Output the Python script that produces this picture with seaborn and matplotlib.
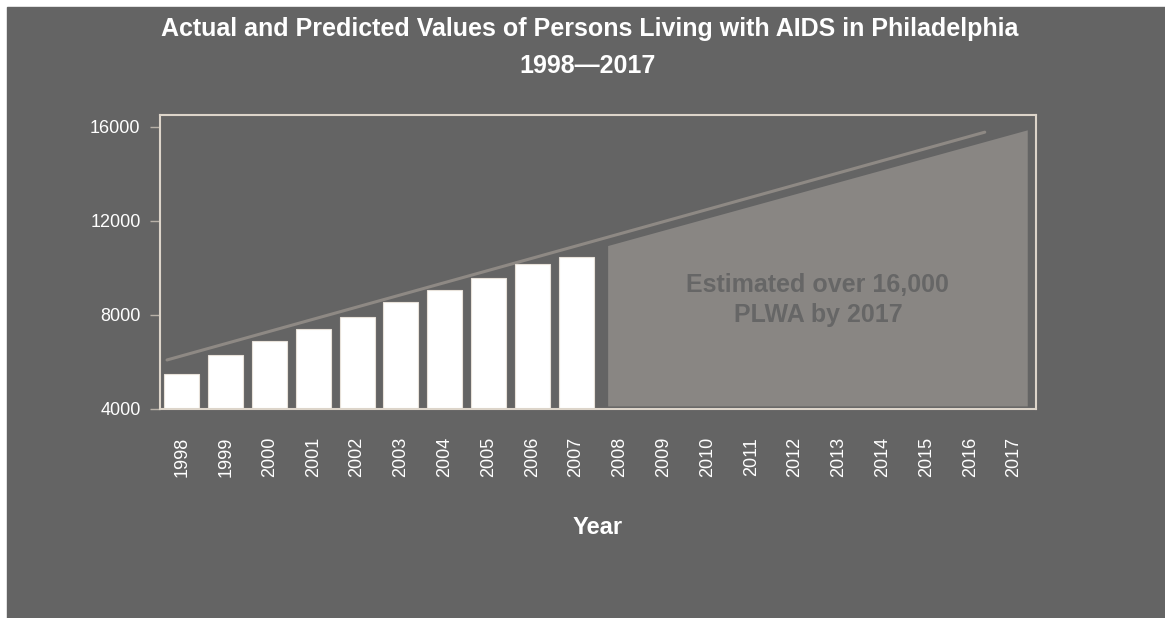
import matplotlib
matplotlib.use('Agg')
import matplotlib.pyplot as plt
import seaborn as sns
import pandas as pd
from matplotlib.patches import Rectangle

# Data
years = list(range(1998, 2018))
actual_years = years[:10]
actual_values = [5480, 6300, 6890, 7420, 7930, 8550, 9080, 9560, 10180, 10480]
trend_years = [1997.66, 2016.33]
trend_values = [6085, 15770]
est_years = [2007.72, 2017.30]
est_top = [10950, 15870]
est_base = 4130
y_ticks = [4000, 8000, 12000, 16000]

sns.set_theme(style='dark')
plt.rcParams['font.family'] = ['Liberation Sans', 'DejaVu Sans']

bg = '#646464'
fig = plt.figure(figsize=(11.65, 6.18), dpi=100)
fig.patch.set_facecolor('white')
# grey panel leaves a thin white strip top and left, like the reference
fig.patches.append(Rectangle((7 / 1165, 0), 1, (618 - 7) / 618,
                             transform=fig.transFigure, color=bg, zorder=-10))

ax = fig.add_axes([160 / 1165, 1 - 409 / 618, 876 / 1165, 294 / 618])
ax.set_facecolor(bg)

df = pd.DataFrame({'Year': [str(y) for y in actual_years], 'Count': actual_values})
order = [str(y) for y in years]

# Estimated region (trapezoid) and trend line, in category positions
est_x = [y - years[0] for y in est_years]
ax.fill_between(est_x, est_base, est_top, color='#898683', linewidth=0, zorder=0.5)
trend_x = [y - years[0] for y in trend_years]
ax.plot(trend_x, trend_values, color='#8e8984', linewidth=2.2, zorder=1)

sns.barplot(data=df, x='Year', y='Count', order=order, color='white',
            edgecolor='#e8e2da', linewidth=0.8, width=0.8, saturation=1,
            ax=ax, zorder=2)

ax.text(0.751, 0.371, 'Estimated over 16,000\nPLWA by 2017', transform=ax.transAxes,
        ha='center', va='center', fontsize=18, fontweight='bold',
        color='#666666', linespacing=1.3)

ax.set_xlim(-0.5, 19.5)
ax.set_ylim(4000, 16500)
ax.set_yticks(y_ticks)
ax.set_yticklabels([str(v) for v in y_ticks])
ax.grid(False)

ax.tick_params(axis='y', colors='#b8b1a8', labelcolor='white', labelsize=13,
               length=7, width=1, pad=7, left=True)
ax.tick_params(axis='x', labelcolor='white', labelsize=13, length=0, pad=20,
               labelrotation=90)

ax.set_ylabel('')
ax.set_xlabel('Year', fontsize=17, fontweight='bold', color='white', labelpad=28)

for s in ax.spines.values():
    s.set_visible(True)
    s.set_color('#ddd5ca')
    s.set_linewidth(1.5)

# Title
fig.text(590 / 1165, 1 - 29 / 618,
         'Actual and Predicted Values of Persons Living with AIDS in Philadelphia',
         ha='center', va='center', fontsize=18, fontweight='bold', color='white')
fig.text(588 / 1165, 1 - 66 / 618, '1998\u20142017',
         ha='center', va='center', fontsize=18, fontweight='bold', color='white')

fig.savefig('out.png', dpi=100, facecolor=fig.get_facecolor())
